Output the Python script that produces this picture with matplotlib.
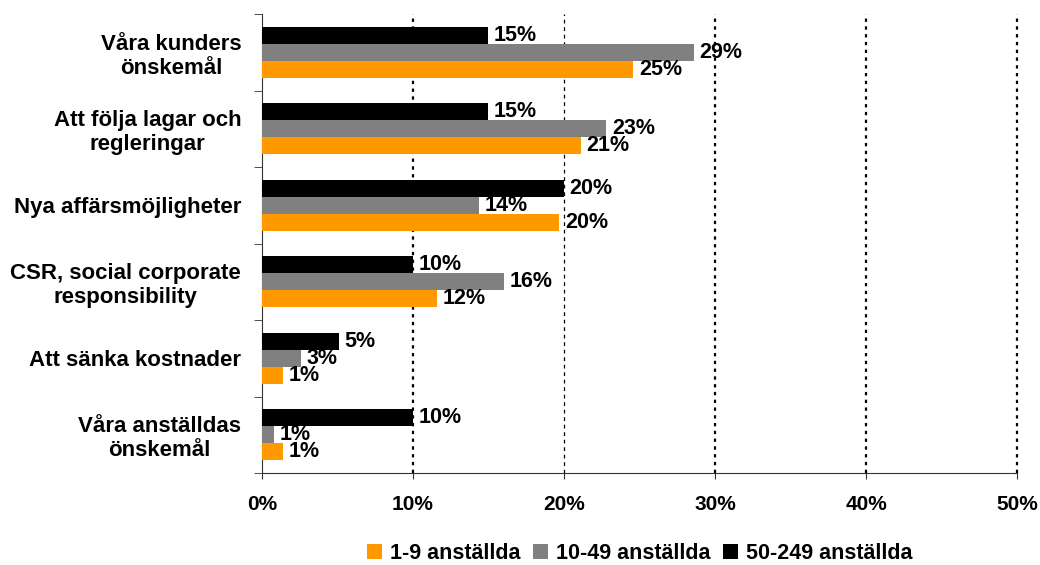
import numpy as np
import matplotlib
matplotlib.use("Agg")
import matplotlib.pyplot as plt
from matplotlib.patches import Patch

# Data (percent)
categories = ["Våra kunders\nönskemål", "Att följa lagar och\nregleringar",
              "Nya affärsmöjligheter", "CSR, social corporate\nresponsibility",
              "Att sänka kostnader", "Våra anställdas\nönskemål"]
small = [24.6, 21.1, 19.7, 11.6, 1.4, 1.4]      # 1-9 anställda
medium = [28.6, 22.8, 14.4, 16.0, 2.6, 0.8]     # 10-49 anställda
large = [15.0, 15.0, 20.0, 10.0, 5.1, 10.0]     # 50-249 anställda
series_names = ["1-9 anställda", "10-49 anställda", "50-249 anställda"]
colors = ["#FF9900", "#808080", "#000000"]
x_ticks = [0, 10, 20, 30, 40, 50]

plt.rcParams['font.family'] = ['Liberation Sans', 'DejaVu Sans']
plt.rcParams['font.weight'] = 'bold'

fig = plt.figure(figsize=(10.4, 5.65), dpi=100)
ax = fig.add_axes([0.2519, 0.1628, 0.726, 0.8124])

y = np.arange(len(categories))
h = 0.222
# black on top, grey middle, orange bottom (y axis inverted)
for vals, off, col in [(large, -h, colors[2]), (medium, 0, colors[1]), (small, h, colors[0])]:
    bars = ax.barh(y + off, vals, height=h, color=col, zorder=3)
    for b, v in zip(bars, vals):
        ax.annotate(f"{round(v)}%", (b.get_width(), b.get_y() + b.get_height() / 2),
                    xytext=(4, 0), textcoords="offset points", ha="left", va="center",
                    fontsize=15.5, fontweight="bold", zorder=4)

ax.set_xlim(0, 50)
ax.set_ylim(len(categories) - 0.5, -0.5)
ax.set_xticks(x_ticks)
ax.set_xticklabels([f"{t}%" for t in x_ticks], fontsize=15, fontweight="bold")
ax.set_yticks(y)
ax.set_yticklabels(categories, fontsize=16, fontweight="bold", multialignment="center")
ax.set_yticks(np.arange(len(categories) + 1) - 0.5, minor=True)
ax.tick_params(axis="y", which="major", length=0, pad=15)
ax.tick_params(axis="y", which="minor", length=6, color="#333333")
ax.tick_params(axis="x", length=4.5, pad=11, color="#333333")

# dotted gridlines; the 20% one is drawn finer in the original
for t in x_ticks[1:]:
    if t == 20:
        ax.axvline(t, color="black", linestyle=(0, (3, 3)), linewidth=0.9, zorder=1)
    else:
        ax.axvline(t, color="black", linestyle=(0, (1.5, 2)), linewidth=1.6,
                   zorder=1, clip_on=False)

for s in ["top", "right"]:
    ax.spines[s].set_visible(False)
ax.spines["left"].set_color("#333333")
ax.spines["bottom"].set_color("#333333")

handles = [Patch(facecolor=c) for c in colors]
fig.legend(handles, series_names, loc="center", bbox_to_anchor=(0.615, 0.02),
           ncol=3, frameon=False, handlelength=0.7, handleheight=0.7,
           handletextpad=0.35, columnspacing=0.6, prop={"weight": "bold", "size": 15.5})

fig.savefig("out.png", dpi=100)
